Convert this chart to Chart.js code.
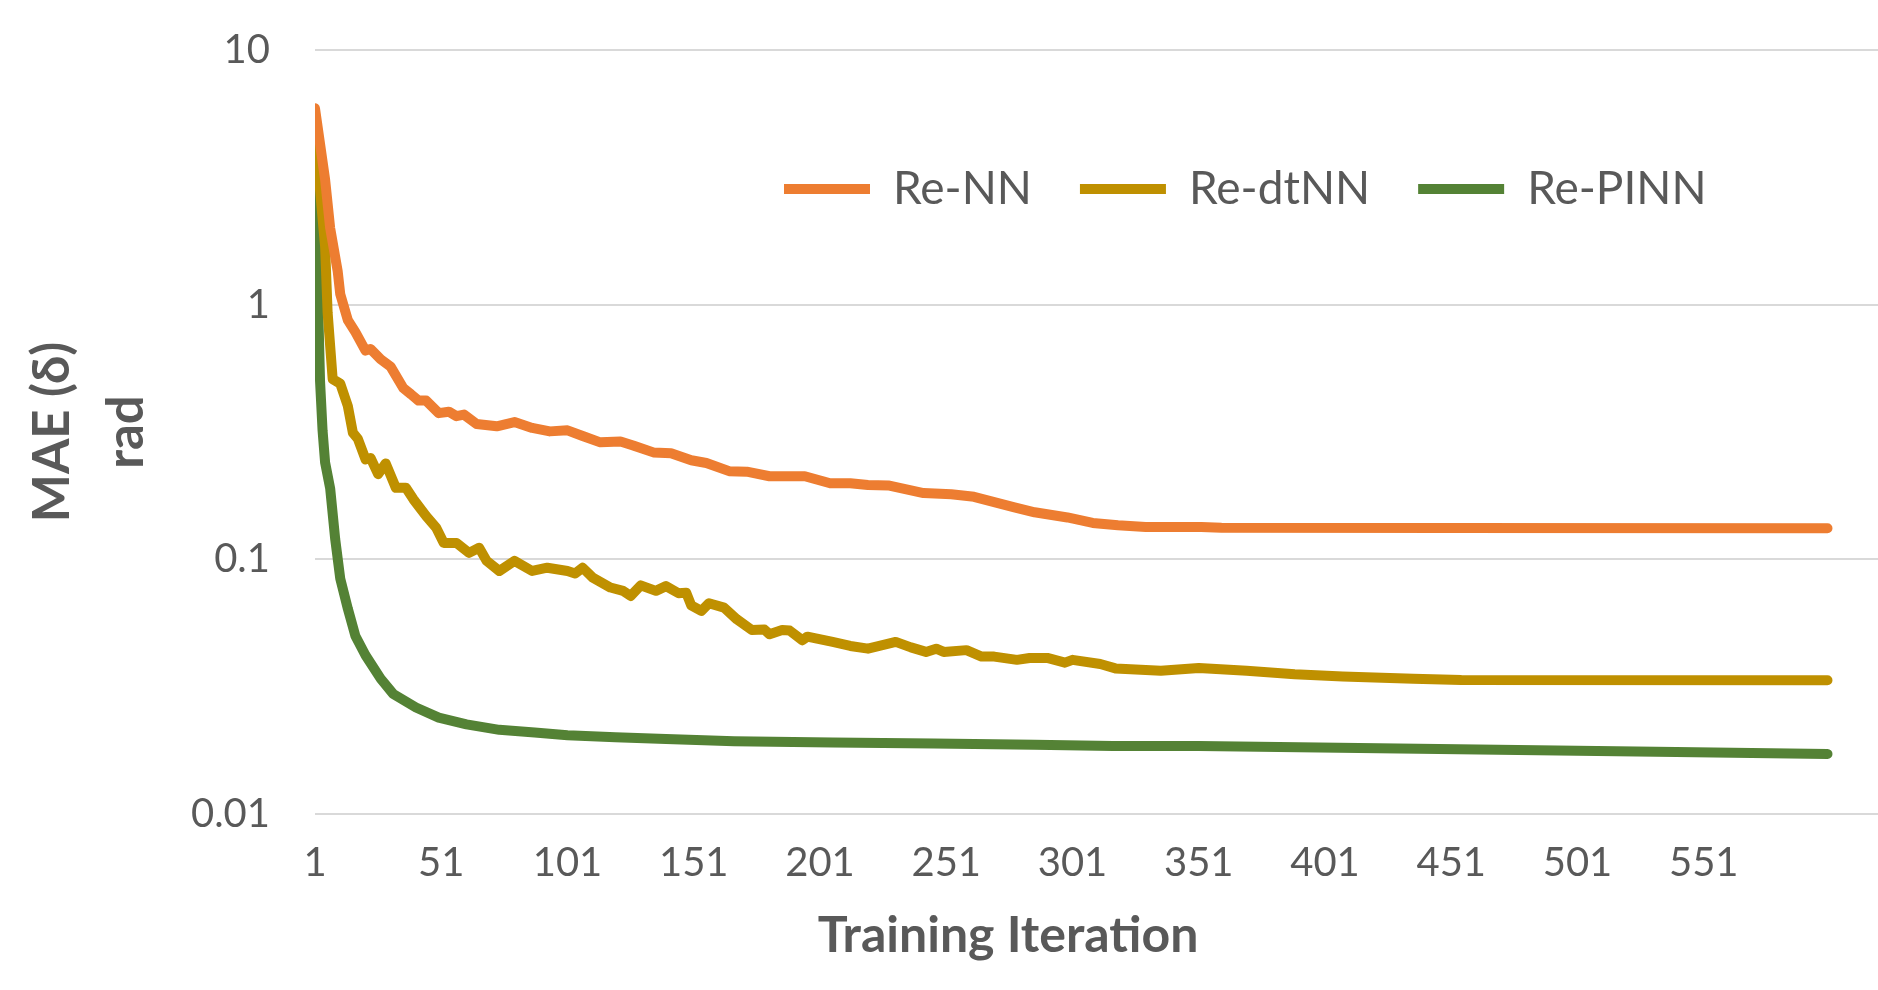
<!DOCTYPE html>
<html lang="en">
<head>
<meta charset="UTF-8">
<title>MAE per Training Iteration</title>
<script src="https://cdn.jsdelivr.net/npm/chart.js"></script>
<style>
  html, body { margin: 0; padding: 0; background: #fff; }
  #wrap { width: 1878px; height: 990px; }
</style>
</head>
<body>
<div id="wrap"><canvas id="maeChart"></canvas></div>
<script>
// values: iteration -> MAE (rad)
const nnIter = [1, 5, 7, 10, 11, 14, 17, 21, 23, 27, 31, 36, 39, 42, 45, 50, 54, 57, 60, 65, 73, 80, 87, 94, 101, 107, 114, 122, 127, 135, 142, 150, 156, 165, 172, 181, 195, 205, 213, 220, 228, 242, 253, 262, 278, 286, 299, 309, 319, 330, 352, 360, 450, 600];
const nnMae = [5.9, 3.1, 2.0, 1.35, 1.1, 0.87, 0.78, 0.66, 0.67, 0.61, 0.57, 0.47, 0.445, 0.42, 0.42, 0.375, 0.38, 0.365, 0.37, 0.34, 0.333, 0.346, 0.328, 0.318, 0.321, 0.305, 0.288, 0.29, 0.28, 0.263, 0.261, 0.245, 0.239, 0.222, 0.221, 0.212, 0.212, 0.199, 0.199, 0.196, 0.195, 0.182, 0.18, 0.176, 0.16, 0.153, 0.146, 0.139, 0.136, 0.134, 0.134, 0.133, 0.1328, 0.1325];

const dtIter = [1, 5, 6, 8, 11, 14, 16, 18, 21, 23, 26, 29, 33, 37, 40, 45, 49, 52, 57, 62, 66, 69, 74, 80, 87, 93, 101, 104, 107, 111, 118, 123, 126, 130, 136, 140, 145, 148, 150, 154, 157, 163, 168, 174, 179, 181, 186, 189, 194, 196, 206, 213, 220, 231, 237, 243, 247, 250, 259, 265, 270, 279, 284, 291, 298, 301, 312, 318, 336, 351, 370, 389, 408, 436, 455, 600];
const dtMae = [4.7, 1.69, 0.93, 0.51, 0.49, 0.40, 0.314, 0.297, 0.247, 0.25, 0.216, 0.238, 0.191, 0.191, 0.172, 0.148, 0.133, 0.116, 0.116, 0.106, 0.111, 0.0986, 0.09, 0.0986, 0.09, 0.0927, 0.09, 0.088, 0.0927, 0.0848, 0.0775, 0.0752, 0.0718, 0.079, 0.0752, 0.0785, 0.0736, 0.074, 0.066, 0.0627, 0.0672, 0.0646, 0.0582, 0.0528, 0.053, 0.0508, 0.0528, 0.0525, 0.0481, 0.0497, 0.0474, 0.0457, 0.0446, 0.0474, 0.0451, 0.0433, 0.0446, 0.0433, 0.044, 0.0415, 0.0415, 0.0403, 0.041, 0.041, 0.0393, 0.0403, 0.0388, 0.0373, 0.0365, 0.0374, 0.0365, 0.0354, 0.0347, 0.034, 0.0336, 0.0335];

const pinnIter = [1, 2, 3, 4, 5, 7, 9, 11, 14, 17, 21, 27, 32, 41, 50, 61, 74, 88, 101, 120, 140, 167, 206, 246, 286, 317, 351, 446, 540, 600];
const pinnMae = [4.3, 1.25, 0.5, 0.32, 0.24, 0.19, 0.12, 0.084, 0.064, 0.05, 0.042, 0.034, 0.0296, 0.0262, 0.0239, 0.0225, 0.0214, 0.0209, 0.0204, 0.02, 0.0197, 0.0193, 0.0191, 0.0189, 0.0187, 0.0185, 0.0185, 0.018, 0.0175, 0.0172];

const xTickLabels = [1, 51, 101, 151, 201, 251, 301, 351, 401, 451, 501, 551];
const yTickValues = [0.01, 0.1, 1, 10];
const seriesNames = ['Re-NN', 'Re-dtNN', 'Re-PINN'];
const seriesColors = ['#ED7D31', '#BF9000', '#548235'];

const textColor = '#595959';
const fontFamily = 'Lato, "Open Sans", sans-serif';

function toPoints(xs, ys) {
    return xs.map((x, i) => ({ x: x, y: ys[i] }));
}

const seriesData = [toPoints(nnIter, nnMae), toPoints(dtIter, dtMae), toPoints(pinnIter, pinnMae)];

const datasets = seriesNames.map((name, i) => ({
    label: name,
    data: seriesData[i],
    borderColor: seriesColors[i],
    backgroundColor: seriesColors[i],
    borderWidth: 10,
    borderCapStyle: 'round',
    borderJoinStyle: 'round',
    pointRadius: 0,
    pointStyle: 'line',
    tension: 0,
    fill: false
}));

// legend sits inside the plot in one row, as in the original
const legendMover = {
    id: 'legendMover',
    afterInit(chart) {
        if (chart.legend) chart.legend.isHorizontal = () => true;
    },
    afterLayout(chart) {
        const lg = chart.legend;
        if (!lg) return;
        const dx = 736 - lg.left;
        const dy = 118 - lg.top;
        lg.left += dx; lg.right = lg.left + 1200;
        lg.top += dy; lg.bottom += dy;
    }
};

// x title is not centred on the plot in the original
const xTitle = {
    id: 'xTitle',
    afterDraw(chart) {
        const ctx = chart.ctx;
        ctx.save();
        ctx.font = 'bold 50px ' + fontFamily;
        ctx.fillStyle = textColor;
        ctx.textAlign = 'center';
        ctx.textBaseline = 'alphabetic';
        ctx.fillText('Training Iteration', 1008, 952);
        ctx.restore();
    }
};

new Chart(document.getElementById('maeChart'), {
    type: 'line',
    data: { datasets: datasets },
    plugins: [legendMover, xTitle],
    options: {
        responsive: true,
        maintainAspectRatio: false,
        animation: false,
        layout: { padding: { top: 50, right: 0, bottom: 0, left: 0 } },
        plugins: {
            tooltip: { enabled: false },
            legend: {
                position: 'chartArea',
                align: 'start',
                labels: {
                    usePointStyle: true,
                    pointStyleWidth: 86,
                    padding: 48,
                    color: textColor,
                    font: { family: fontFamily, size: 46 }
                }
            }
        },
        scales: {
            x: {
                type: 'linear',
                min: 1,
                max: 620,
                afterBuildTicks: (axis) => {
                    axis.ticks = xTickLabels.map(v => ({ value: v }));
                },
                afterFit: (axis) => { axis.height = 176; },
                grid: { display: false },
                border: { display: false },
                ticks: {
                    color: textColor,
                    font: { family: fontFamily, size: 40 },
                    padding: 17,
                    maxRotation: 0,
                    autoSkip: false,
                    callback: (v) => String(v)
                }
            },
            y: {
                type: 'logarithmic',
                min: 0.01,
                max: 10,
                afterBuildTicks: (axis) => {
                    axis.ticks = yTickValues.map(v => ({ value: v }));
                },
                afterFit: (axis) => { axis.width = 315; },
                // invisible tick marks keep the labels away from the plot
                grid: { color: '#d9d9d9', lineWidth: 2, drawTicks: true, tickLength: 43, tickColor: 'rgba(0,0,0,0)' },
                border: { display: false },
                ticks: {
                    color: textColor,
                    font: { family: fontFamily, size: 40 },
                    padding: 2,
                    callback: (v) => String(v)
                },
                title: {
                    display: true,
                    text: ['MAE (δ)', 'rad'],
                    color: textColor,
                    font: { family: fontFamily, size: 51, weight: 'bold', lineHeight: 1.45 },
                    padding: { top: 16, bottom: 0 }
                }
            }
        }
    }
});
</script>
</body>
</html>
